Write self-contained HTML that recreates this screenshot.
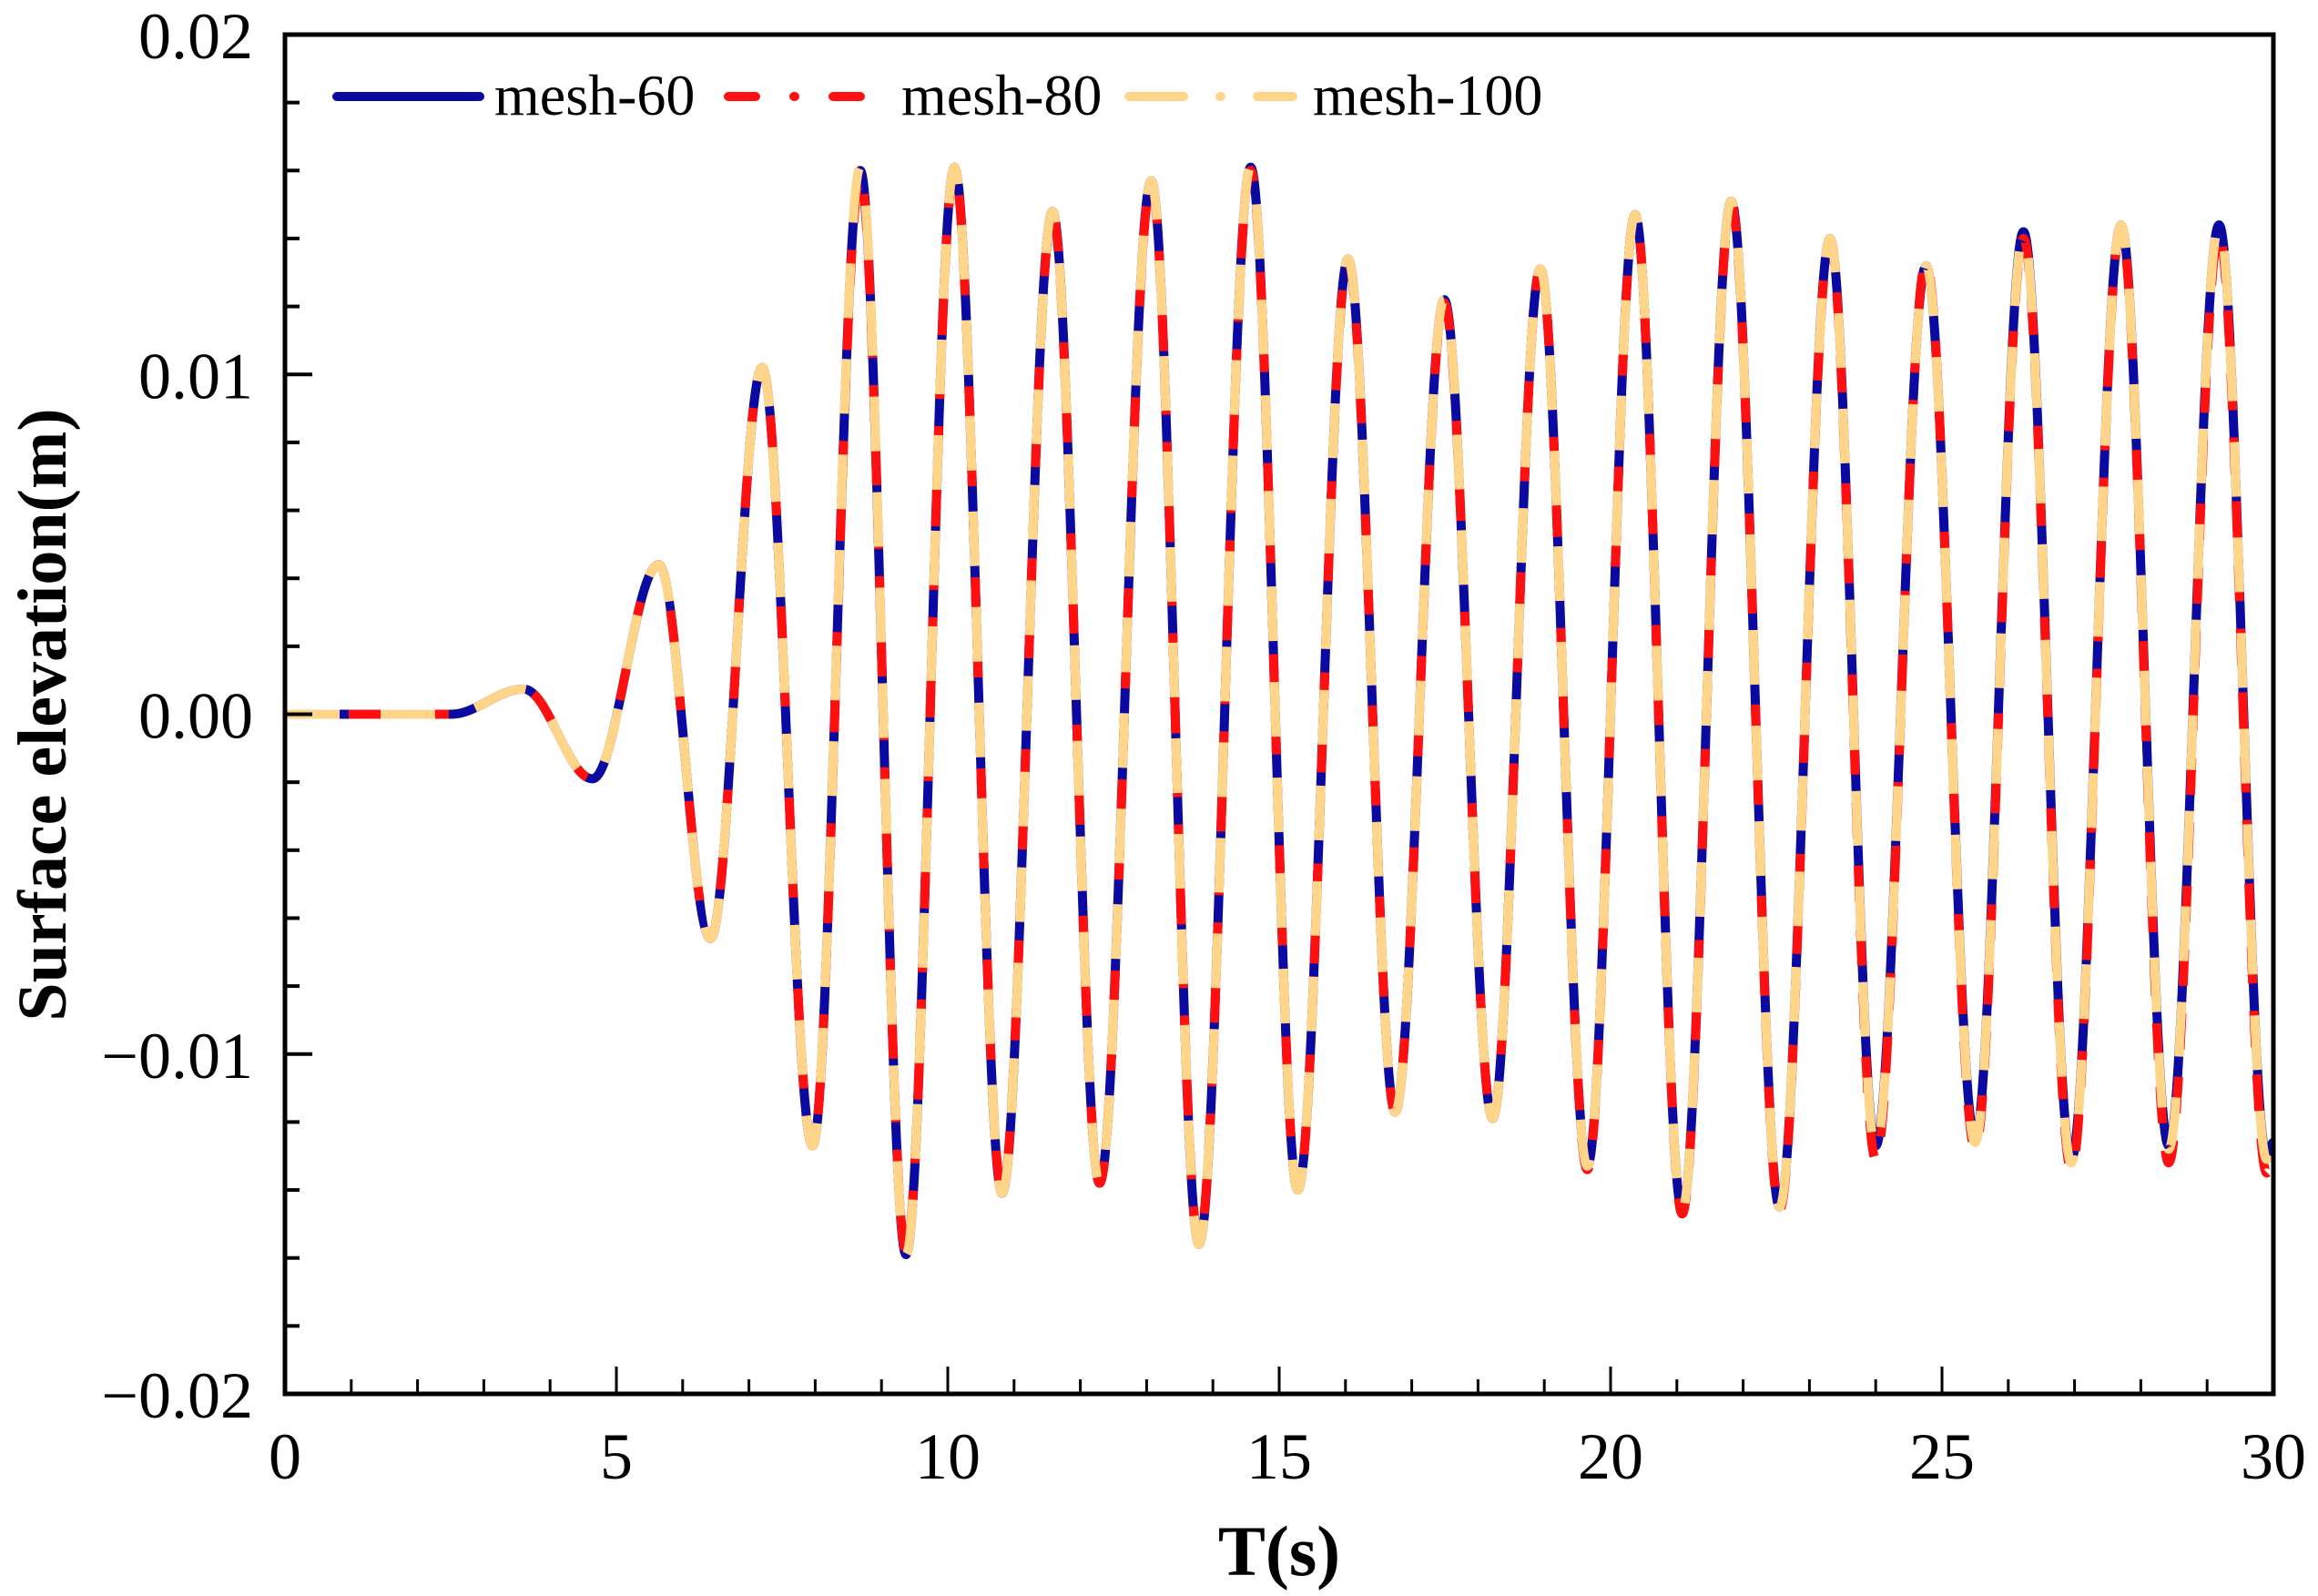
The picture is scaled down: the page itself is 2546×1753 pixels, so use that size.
<!DOCTYPE html>
<html><head><meta charset="utf-8"><style>
html,body{margin:0;padding:0;background:#fff;}
svg{display:block;font-family:"Liberation Serif",serif;}
</style></head><body>
<svg id="chart" width="2546" height="1753" viewBox="0 0 2546 1753" xmlns="http://www.w3.org/2000/svg">
<g id="series"></g>
<g id="axes"></g>
<text transform="translate(72,785) rotate(-90)" text-anchor="middle" font-size="76" font-weight="bold">Surface elevation(m)</text>
<text x="1405" y="1730" text-anchor="middle" font-size="78" font-weight="bold">T(s)</text>
<g>
  <line x1="370" y1="106" x2="527" y2="106" stroke="#0a0aa0" stroke-width="10" stroke-linecap="round"/>
  <text x="543" y="126" font-size="64">mesh-60</text>
  <line x1="800" y1="106" x2="960" y2="106" stroke="#ff1010" stroke-width="10" stroke-linecap="round" stroke-dasharray="30 42 1 42"/>
  <text x="990" y="126" font-size="64">mesh-80</text>
  <line x1="1240" y1="106" x2="1420" y2="106" stroke="#ffd58a" stroke-width="10" stroke-linecap="round" stroke-dasharray="60 40 1 40"/>
  <text x="1442" y="126" font-size="64">mesh-100</text>
</g>
</svg>
<script>
const extremaT = [0, 2.5, 3.6, 4.64, 5.64, 6.42, 7.2, 7.96, 8.68, 9.37, 10.1, 10.82, 11.58, 12.29, 13.07, 13.79, 14.57, 15.28, 16.04, 16.75, 17.49, 18.22, 18.94, 19.65, 20.37, 21.08, 21.82, 22.55, 23.31, 24.0, 24.76, 25.5, 26.23, 26.95, 27.7, 28.42, 29.18, 29.9, 30];
const mesh60 = [0, 0, 0.00074, -0.0019, 0.0044, -0.0066, 0.0102, -0.0127, 0.0160, -0.0159, 0.0161, -0.0141, 0.0148, -0.0138, 0.0157, -0.0156, 0.0161, -0.0140, 0.0134, -0.0117, 0.0122, -0.0119, 0.0131, -0.0133, 0.0147, -0.0146, 0.0151, -0.0145, 0.0140, -0.0127, 0.0132, -0.0125, 0.0142, -0.0131, 0.0144, -0.0127, 0.0144, -0.0130, -0.0126];
const mesh80 = [0, 0, 0.00074, -0.0019, 0.0044, -0.0066, 0.0102, -0.0127, 0.0158, -0.0158, 0.0160, -0.0140, 0.0147, -0.0138, 0.0156, -0.0155, 0.0160, -0.0140, 0.0133, -0.0117, 0.0121, -0.0119, 0.0131, -0.0134, 0.0147, -0.0147, 0.0150, -0.0146, 0.0139, -0.0131, 0.0133, -0.0128, 0.0140, -0.0134, 0.0143, -0.0132, 0.0141, -0.0135, -0.0130];
const mesh100 = [0, 0, 0.00074, -0.0019, 0.0044, -0.0066, 0.0102, -0.0127, 0.0161, -0.0159, 0.0161, -0.0141, 0.0148, -0.0138, 0.0157, -0.0156, 0.0161, -0.0140, 0.0134, -0.0117, 0.0122, -0.0119, 0.0131, -0.0133, 0.0147, -0.0146, 0.0151, -0.0145, 0.0140, -0.0128, 0.0132, -0.0126, 0.0141, -0.0132, 0.0144, -0.0128, 0.0144, -0.0131, -0.0127];
const xTicks = [0, 5, 10, 15, 20, 25, 30];
const yTicks = [0.02, 0.01, 0.00, -0.01, -0.02];
const yTickLabels = ["0.02", "0.01", "0.00", "\u22120.01", "\u22120.02"];

const L=313,R=2497,T=38,B=1531;
const xs=t=>L+(t-0)/30*(R-L);
const ys=v=>T+(0.02-v)/0.04*(B-T);
const NS="http://www.w3.org/2000/svg";
const sg=document.getElementById('series'), ag=document.getElementById('axes');

function pathFor(tt,vv){
  let d='M'+xs(tt[0]).toFixed(1)+','+ys(vv[0]).toFixed(1);
  for(let i=1;i<tt.length;i++){
    const x0=xs(tt[i-1]),x1=xs(tt[i]),y0=ys(vv[i-1]),y1=ys(vv[i]);
    const k=(x1-x0)*0.36;
    d+=' C'+(x0+k).toFixed(1)+','+y0.toFixed(1)+' '+(x1-k).toFixed(1)+','+y1.toFixed(1)+' '+x1.toFixed(1)+','+y1.toFixed(1);
  }
  return d;
}
function addSeries(name,vals,color,dash){
  const p=document.createElementNS(NS,'path');
  
  
  p.setAttribute('d',pathFor(extremaT,vals));
  p.setAttribute('fill','none');p.setAttribute('stroke',color);
  p.setAttribute('stroke-width','10');
  if(dash)p.setAttribute('stroke-dasharray',dash);
  sg.appendChild(p);
}
addSeries('series-mesh-60',mesh60,'#0a0aa0',null);
addSeries('series-mesh-80',mesh80,'#ff1010','40 30');
addSeries('series-mesh-100',mesh100,'#ffd58a','60 45');

function ln(x1,y1,x2,y2,w){const l=document.createElementNS(NS,'line');l.setAttribute('x1',x1);l.setAttribute('y1',y1);l.setAttribute('x2',x2);l.setAttribute('y2',y2);l.setAttribute('stroke','#000');l.setAttribute('stroke-width',w);ag.appendChild(l);return l;}
const frame=document.createElementNS(NS,'rect');


frame.setAttribute('x',L);frame.setAttribute('y',T);frame.setAttribute('width',R-L);frame.setAttribute('height',B-T);
frame.setAttribute('fill','none');frame.setAttribute('stroke','#000');frame.setAttribute('stroke-width','5');
ag.appendChild(frame);
for(let t=1;t<30;t++){
  const major=t%5===0;
  const l=ln(xs(t),B,xs(t),B-(major?30:16),3);
  
  
}
for(let k=-9;k<=9;k++){
  const v=k*0.002; const major=k%5===0;
  const l=ln(L,ys(v),L+(major?30:16),ys(v),4);
  
  
}
xTicks.forEach(t=>{
  const tx=document.createElementNS(NS,'text');
  
  
  tx.setAttribute('x',xs(t));tx.setAttribute('y',1624);tx.setAttribute('text-anchor','middle');tx.setAttribute('font-size','72');
  tx.textContent=String(t);ag.appendChild(tx);
});
yTicks.forEach((v,i)=>{
  const tx=document.createElementNS(NS,'text');
  
  
  tx.setAttribute('x',278);tx.setAttribute('y',ys(v)+26);tx.setAttribute('text-anchor','end');tx.setAttribute('font-size','72');
  tx.textContent=yTickLabels[i];ag.appendChild(tx);
});
</script>
</body></html>
